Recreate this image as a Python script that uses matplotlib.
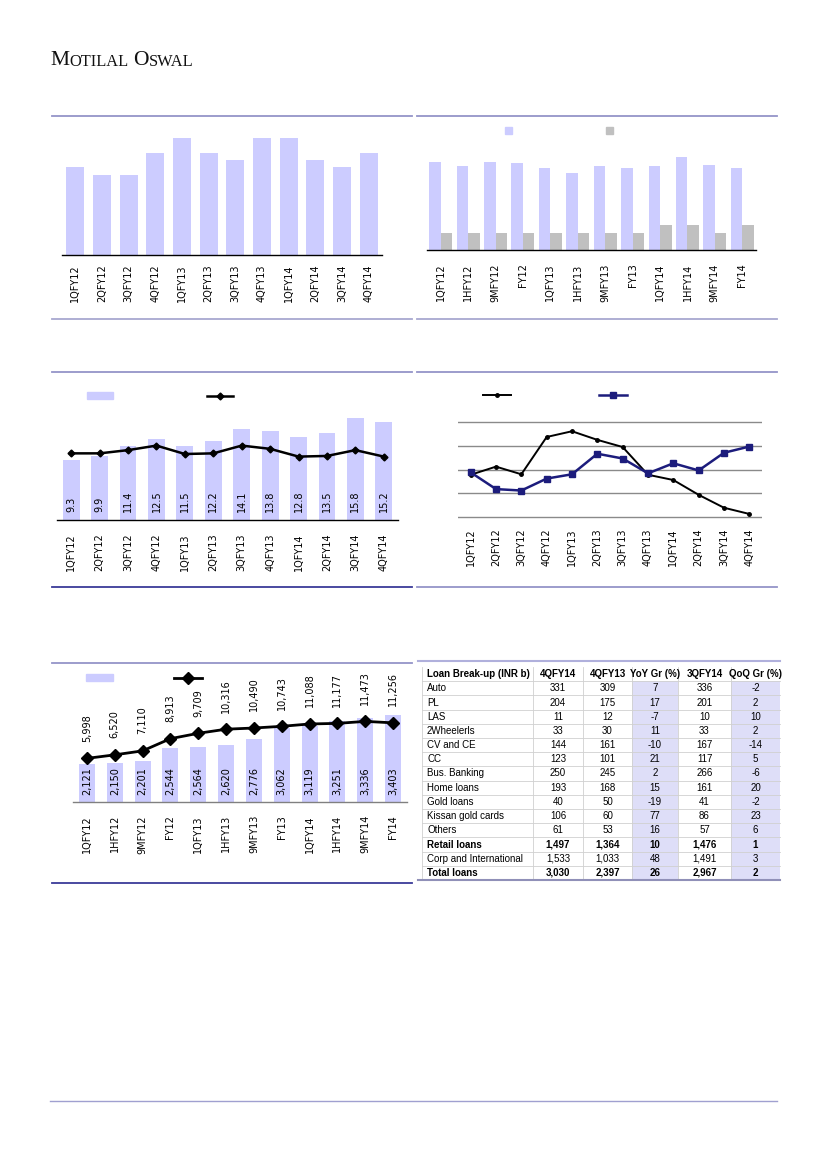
import numpy as np
import matplotlib
matplotlib.use('Agg')
import matplotlib.pyplot as plt
from matplotlib.patches import Patch
from matplotlib.lines import Line2D

W, H = 827, 1169

# ---- data ----
q_labels = ['1QFY12', '2QFY12', '3QFY12', '4QFY12', '1QFY13', '2QFY13',
            '3QFY13', '4QFY13', '1QFY14', '2QFY14', '3QFY14', '4QFY14']
cum_labels = ['1QFY12', '1HFY12', '9MFY12', 'FY12', '1QFY13', '1HFY13',
              '9MFY13', 'FY13', '1QFY14', '1HFY14', '9MFY14', 'FY14']

v1 = [1.2, 1.1, 1.1, 1.4, 1.6, 1.4, 1.3, 1.6, 1.6, 1.3, 1.2, 1.4]

v2_a = [10.3, 9.9, 10.3, 10.2, 9.6, 9.1, 9.9, 9.6, 9.9, 10.9, 10.0, 9.6]
v2_b = [2, 2, 2, 2, 2, 2, 2, 2, 3, 3, 2, 3]

v3_bar = [9.3, 9.9, 11.4, 12.5, 11.5, 12.2, 14.1, 13.8, 12.8, 13.5, 15.8, 15.2]
v3_line = [10.3, 10.3, 10.8, 11.5, 10.2, 10.3, 11.5, 11.0, 9.8, 9.9, 10.8, 9.8]

v4_a = [1.89, 2.06, 1.90, 2.68, 2.80, 2.62, 2.47, 1.89, 1.78, 1.47, 1.20, 1.07]
v4_b = [1.94, 1.59, 1.56, 1.81, 1.90, 2.33, 2.23, 1.92, 2.13, 1.98, 2.35, 2.48]

v5_bar = [2121, 2150, 2201, 2544, 2564, 2620, 2776, 3062, 3119, 3251, 3336, 3403]
v5_line = [5998, 6520, 7110, 8913, 9709, 10316, 10490, 10743, 11088, 11177, 11473, 11256]

tbl_head = ['Loan Break-up (INR b)', '4QFY14', '4QFY13', 'YoY Gr (%)', '3QFY14', 'QoQ Gr (%)']
tbl_rows = ['Auto', 'PL', 'LAS', '2Wheelerls', 'CV and CE', 'CC', 'Bus. Banking',
            'Home loans', 'Gold loans', 'Kissan gold cards', 'Others', 'Retail loans',
            'Corp and International', 'Total loans']
tbl_4q14 = ['331', '204', '11', '33', '144', '123', '250', '193', '40', '106', '61', '1,497', '1,533', '3,030']
tbl_4q13 = ['309', '175', '12', '30', '161', '101', '245', '168', '50', '60', '53', '1,364', '1,033', '2,397']
tbl_yoy = ['7', '17', '-7', '11', '-10', '21', '2', '15', '-19', '77', '16', '10', '48', '26']
tbl_3q14 = ['336', '201', '10', '33', '167', '117', '266', '161', '41', '86', '57', '1,476', '1,491', '2,967']
tbl_qoq = ['-2', '2', '10', '2', '-14', '5', '-6', '20', '-2', '23', '6', '1', '3', '2']
tbl_bold = ['Retail loans', 'Total loans']

BAR = '#ccccff'
GREY = '#c0c0c0'
NAVY = '#1c1c7c'
RULE = '#9494c8'
RULE_DARK = '#3a3a98'

fig = plt.figure(figsize=(W / 100, H / 100), dpi=100)
fig.patch.set_facecolor('white')


def fx(x):
    return x / W


def fy(y):
    return 1 - y / H


def px_axes(x0, y0, x1, y1):
    return fig.add_axes([fx(x0), fy(y1), (x1 - x0) / W, (y1 - y0) / H])


def base_style(ax, labels, pad):
    for s in ['top', 'right', 'left']:
        ax.spines[s].set_visible(False)
    ax.spines['bottom'].set_color('black')
    ax.spines['bottom'].set_linewidth(1)
    ax.set_yticks([])
    ax.set_xticks(range(len(labels)))
    ax.set_xticklabels(labels, rotation=90, fontsize=7)
    ax.tick_params(axis='x', length=0, pad=pad)
    ax.set_xlim(-0.5, len(labels) - 0.5)
    ax.set_facecolor('none')


def blank_legend(ax, handles, x, y, hl, cs, hh=0.7):
    ax.legend(handles, [''] * len(handles), ncol=len(handles), loc='center left',
              bbox_to_anchor=(fx(x), fy(y)), bbox_transform=fig.transFigure,
              frameon=False, borderpad=0, borderaxespad=0, handlelength=hl,
              handleheight=hh, handletextpad=0, columnspacing=cs, fontsize=7)


# overlay in pixel coords for rules, title and table
ov = fig.add_axes([0, 0, 1, 1])
ov.set_xlim(0, W)
ov.set_ylim(H, 0)
ov.axis('off')

# title in small caps
big, small = 15.5, 11.8
t = ov.text(50, 65, 'M', fontsize=big, family='Liberation Serif', color='#111111')
t = ov.annotate('OTILAL', xy=(1, 0), xycoords=t, fontsize=small, family='Liberation Serif',
                color='#111111', va='bottom')
t = ov.annotate('O', xy=(1, 0), xycoords=t, xytext=(3.5, 0), textcoords='offset points',
                fontsize=big, family='Liberation Serif', color='#111111', va='bottom')
t = ov.annotate('SWAL', xy=(1, 0), xycoords=t, fontsize=small, family='Liberation Serif',
                color='#111111', va='bottom')

# section rules
for y, c in [(116, RULE), (319, '#a8a8d0'), (372, RULE), (587, RULE_DARK), (663, RULE), (883, RULE_DARK)]:
    ov.plot([52, 412], [y, y], color=c, lw=1.3)
for y, c in [(116, RULE), (319, '#a8a8d0'), (372, RULE), (587, RULE)]:
    ov.plot([417, 777], [y, y], color=c, lw=1.3)
ov.plot([50, 777], [1101, 1101], color='#a0a0d0', lw=1.0)

x = np.arange(12)

# ---- chart 1 ----
ax1 = px_axes(62, 125, 382, 255)
ax1.bar(x, v1, width=0.67, color=BAR)
ax1.set_ylim(0, 1.6 * 130 / 117)
base_style(ax1, q_labels, 6.5)

# ---- chart 2 ----
ax2 = px_axes(427, 130, 756, 250)
w2 = 0.42
ax2.bar(x - w2 / 2, v2_a, width=w2, color=BAR)
ax2.bar(x + w2 / 2, v2_b, width=w2, color=GREY)
ax2.set_ylim(0, 120 / 8.5)
base_style(ax2, cum_labels, 9.6)
blank_legend(ax2, [Patch(color=BAR), Patch(color=GREY)], 505, 131, 0.7, 9.7)

# ---- chart 3 ----
ax3 = px_axes(57, 410, 398, 520)
ax3.bar(x, v3_bar, width=0.59, color=BAR)
ax3.plot(x, v3_line, color='black', lw=1.8, marker='D', ms=3.5)
for i, v in enumerate(v3_bar):
    ax3.annotate(f'{v:.1f}', (i, 0), xytext=(0, 6), textcoords='offset points',
                 rotation=90, ha='center', va='bottom', fontsize=7)
ax3.set_ylim(0, 110 / 6.47)
base_style(ax3, q_labels, 9.4)
blank_legend(ax3, [Patch(color=BAR), Line2D([], [], color='black', lw=1.8, marker='D', ms=3.5)],
             87, 396, 2.7, 9.65)

# ---- chart 4 ----
ax4 = px_axes(458, 419.3, 762, 519.7)
ax4.plot(x, v4_a, color='black', lw=1.4, marker='o', ms=2.5)
ax4.plot(x, v4_b, color=NAVY, lw=1.8, marker='s', ms=5)
ax4.set_ylim(0.95, 3.05)
base_style(ax4, q_labels, 6.2)
ax4.spines['bottom'].set_visible(False)
ax4.set_yticks([1.0, 1.5, 2.0, 2.5, 3.0])
ax4.tick_params(axis='y', length=0, labelleft=False)
ax4.grid(axis='y', color='#8a8a8a', lw=1)
ax4.set_axisbelow(True)
blank_legend(ax4, [Line2D([], [], color='black', lw=1.4, marker='o', ms=2.5),
                   Line2D([], [], color=NAVY, lw=1.8, marker='s', ms=5)],
             483, 395, 2.9, 9.03)

# ---- chart 5 ----
ax5 = px_axes(73, 690, 407, 801.7)
ax5.bar(x, v5_bar, width=0.57, color=BAR)
for i, v in enumerate(v5_bar):
    ax5.annotate(f'{v:,}', (i, 1125), xytext=(0, 5), textcoords='offset points',
                 rotation=90, ha='center', va='bottom', fontsize=7)
ax5.set_ylim(1125, 1125 + 111.7 / 0.038)
base_style(ax5, cum_labels, 9.6)
ax5.spines['bottom'].set_color('#808080')
ax5b = ax5.twinx()
ax5b.plot(x, v5_line, color='black', lw=2, marker='D', ms=6)
for i, v in enumerate(v5_line):
    ax5b.annotate(f'{v:,}', (i, v), xytext=(0, 12), textcoords='offset points',
                  rotation=90, ha='center', va='bottom', fontsize=7)
ax5b.set_ylim(-414, -414 + 111.7 / 0.006757)
for s in ax5b.spines.values():
    s.set_visible(False)
ax5b.set_yticks([])
blank_legend(ax5, [Patch(color=BAR), Line2D([], [], color='black', lw=2, marker='D', ms=6)],
             86, 678, 2.8, 6.3)

# ---- table ----
cols = [422, 533, 583, 632, 678, 731, 780]
row_h = 14.2
top = 667
tfont = ['Liberation Sans Narrow', 'Liberation Sans', 'DejaVu Sans']
n_rows = len(tbl_rows) + 1
bottom = top + n_rows * row_h
for c in (3, 5):
    ov.add_patch(plt.Rectangle((cols[c], top + row_h), cols[c + 1] - cols[c],
                               bottom - top - row_h, color='#dedef8', lw=0))
for r in range(1, n_rows):
    ov.plot([cols[0], cols[-1]], [top + r * row_h] * 2, color='#d0d0d0', lw=0.6)
for c in cols[:-1]:
    ov.plot([c, c], [top, bottom], color='#d0d0d0', lw=0.6)
ov.plot([418, 780], [661, 661], color='#b0b0dc', lw=1.5)
ov.plot([418, 780], [bottom, bottom], color='#9090b8', lw=1.5)

for c, h in enumerate(tbl_head):
    if c == 0:
        ov.text(cols[0] + 5, top + row_h / 2, h, fontsize=7, family=tfont, weight='bold', va='center', ha='left')
    else:
        ov.text((cols[c] + cols[c + 1]) / 2, top + row_h / 2, h, fontsize=7, family=tfont,
                weight='bold', va='center', ha='center')
for r, name in enumerate(tbl_rows):
    yc = top + (r + 1.5) * row_h
    wt = 'bold' if name in tbl_bold else 'normal'
    ov.text(cols[0] + 5, yc, name, fontsize=7, family=tfont, weight=wt, va='center', ha='left')
    vals = [tbl_4q14[r], tbl_4q13[r], tbl_yoy[r], tbl_3q14[r], tbl_qoq[r]]
    for c, v in enumerate(vals):
        ov.text((cols[c + 1] + cols[c + 2]) / 2, yc, v, fontsize=7, family=tfont,
                weight=wt, va='center', ha='center')

fig.savefig('out.png', dpi=100)
